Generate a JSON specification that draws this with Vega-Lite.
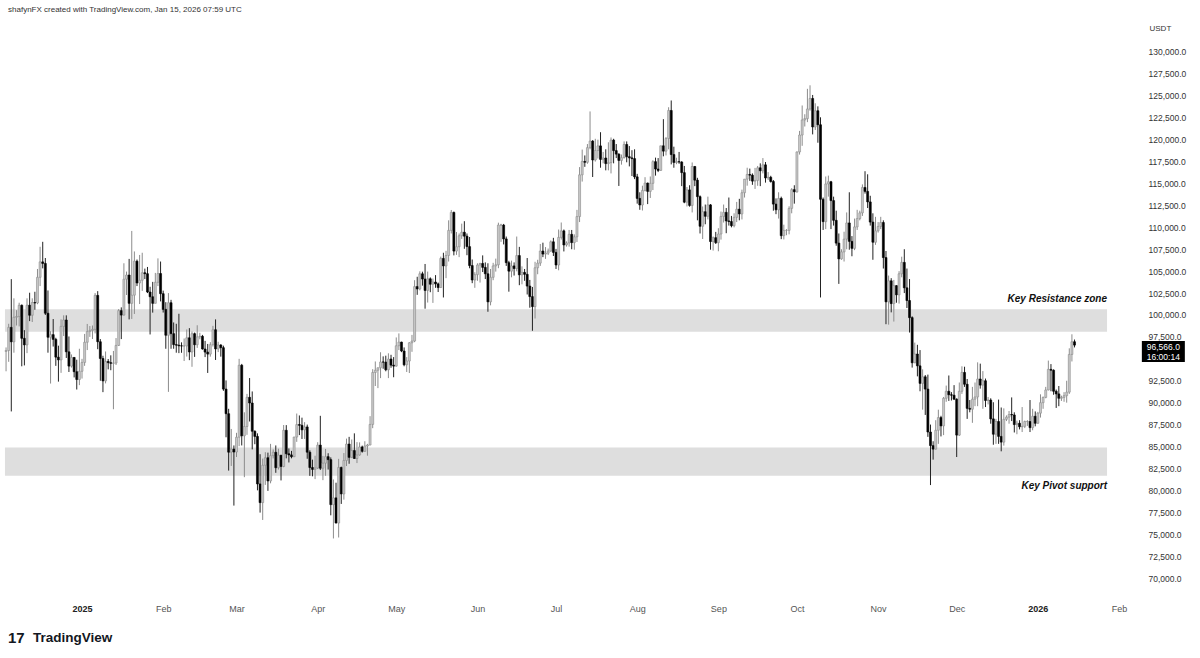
{
"$schema": "https://vega.github.io/schema/vega-lite/v6.json",
"width": 1140, "height": 575,
"autosize": {"type": "none"},
"padding": {"left": 0, "top": 20, "right": 60, "bottom": 63},
"background": "#ffffff",
"config": {"view": {"stroke": null}, "font": "Liberation Sans"},
"resolve": {"axis": {"x": "independent", "y": "independent"}},
"datasets": {
"btc": [
{"d":"2024-12-03","o":95840,"h":96300,"l":93580,"c":95950},
{"d":"2024-12-04","o":95950,"h":99000,"l":94660,"c":98590},
{"d":"2024-12-05","o":98590,"h":104090,"l":89000,"c":96940},
{"d":"2024-12-06","o":96940,"h":101900,"l":95700,"c":99740},
{"d":"2024-12-07","o":99740,"h":100550,"l":98800,"c":99830},
{"d":"2024-12-08","o":99830,"h":101400,"l":98700,"c":101110},
{"d":"2024-12-09","o":101110,"h":101200,"l":94150,"c":97340},
{"d":"2024-12-10","o":97340,"h":98270,"l":94250,"c":96590},
{"d":"2024-12-11","o":96590,"h":101900,"l":95650,"c":101120},
{"d":"2024-12-12","o":101120,"h":102540,"l":99300,"c":99970},
{"d":"2024-12-13","o":99970,"h":101900,"l":99200,"c":101420},
{"d":"2024-12-14","o":101420,"h":102650,"l":100600,"c":101370},
{"d":"2024-12-15","o":101370,"h":105250,"l":101230,"c":104300},
{"d":"2024-12-16","o":104300,"h":107780,"l":103300,"c":106060},
{"d":"2024-12-17","o":106060,"h":108350,"l":105320,"c":105880},
{"d":"2024-12-18","o":105880,"h":106500,"l":100000,"c":100200},
{"d":"2024-12-19","o":100200,"h":102800,"l":95700,"c":97460},
{"d":"2024-12-20","o":97460,"h":98150,"l":92180,"c":97760},
{"d":"2024-12-21","o":97760,"h":99540,"l":96400,"c":97220},
{"d":"2024-12-22","o":97220,"h":97400,"l":94200,"c":95190},
{"d":"2024-12-23","o":95190,"h":96500,"l":92400,"c":94880},
{"d":"2024-12-24","o":94880,"h":99500,"l":93400,"c":98700},
{"d":"2024-12-25","o":98700,"h":99960,"l":97600,"c":99430},
{"d":"2024-12-26","o":99430,"h":99960,"l":95100,"c":95800},
{"d":"2024-12-27","o":95800,"h":97550,"l":93500,"c":94170},
{"d":"2024-12-28","o":94170,"h":95500,"l":94000,"c":95160},
{"d":"2024-12-29","o":95160,"h":95200,"l":92880,"c":93530},
{"d":"2024-12-30","o":93530,"h":94900,"l":91500,"c":92640},
{"d":"2024-12-31","o":92640,"h":96150,"l":92000,"c":93580},
{"d":"2025-01-01","o":93580,"h":95000,"l":92750,"c":94590},
{"d":"2025-01-02","o":94590,"h":97840,"l":94200,"c":96890},
{"d":"2025-01-03","o":96890,"h":98980,"l":96000,"c":98110},
{"d":"2025-01-04","o":98110,"h":98740,"l":97500,"c":98240},
{"d":"2025-01-05","o":98240,"h":98800,"l":97260,"c":98360},
{"d":"2025-01-06","o":98360,"h":102500,"l":97900,"c":102240},
{"d":"2025-01-07","o":102240,"h":102720,"l":96100,"c":96950},
{"d":"2025-01-08","o":96950,"h":97250,"l":92500,"c":95040},
{"d":"2025-01-09","o":95040,"h":95350,"l":91200,"c":92480},
{"d":"2025-01-10","o":92480,"h":95840,"l":92200,"c":94700},
{"d":"2025-01-11","o":94700,"h":94980,"l":93800,"c":94560},
{"d":"2025-01-12","o":94560,"h":95400,"l":93700,"c":94490},
{"d":"2025-01-13","o":94490,"h":95900,"l":89250,"c":94520},
{"d":"2025-01-14","o":94520,"h":97370,"l":94300,"c":96530},
{"d":"2025-01-15","o":96530,"h":100680,"l":96460,"c":100500},
{"d":"2025-01-16","o":100500,"h":100870,"l":97250,"c":99990},
{"d":"2025-01-17","o":99990,"h":105900,"l":99950,"c":104080},
{"d":"2025-01-18","o":104080,"h":104950,"l":102280,"c":104560},
{"d":"2025-01-19","o":104560,"h":106400,"l":99500,"c":101330},
{"d":"2025-01-20","o":101330,"h":109590,"l":99550,"c":102260},
{"d":"2025-01-21","o":102260,"h":107250,"l":100120,"c":106140},
{"d":"2025-01-22","o":106140,"h":106330,"l":103300,"c":103650},
{"d":"2025-01-23","o":103650,"h":106850,"l":101250,"c":103960},
{"d":"2025-01-24","o":103960,"h":107100,"l":102750,"c":104820},
{"d":"2025-01-25","o":104820,"h":105290,"l":104100,"c":104710},
{"d":"2025-01-26","o":104710,"h":105480,"l":102500,"c":102620},
{"d":"2025-01-27","o":102620,"h":103220,"l":97780,"c":102080},
{"d":"2025-01-28","o":102080,"h":103780,"l":100270,"c":101330},
{"d":"2025-01-29","o":101330,"h":104800,"l":101330,"c":103730},
{"d":"2025-01-30","o":103730,"h":106460,"l":103300,"c":104730},
{"d":"2025-01-31","o":104730,"h":106100,"l":101550,"c":102430},
{"d":"2025-02-01","o":102430,"h":102780,"l":100280,"c":100640},
{"d":"2025-02-02","o":100640,"h":101460,"l":96150,"c":97690},
{"d":"2025-02-03","o":97690,"h":102500,"l":91230,"c":101400},
{"d":"2025-02-04","o":101400,"h":101730,"l":96150,"c":97870},
{"d":"2025-02-05","o":97870,"h":99150,"l":96150,"c":96620},
{"d":"2025-02-06","o":96620,"h":99000,"l":95700,"c":96560},
{"d":"2025-02-07","o":96560,"h":100140,"l":95650,"c":96480},
{"d":"2025-02-08","o":96480,"h":96880,"l":95690,"c":96470},
{"d":"2025-02-09","o":96470,"h":97320,"l":94750,"c":96470},
{"d":"2025-02-10","o":96470,"h":98350,"l":95260,"c":97400},
{"d":"2025-02-11","o":97400,"h":98500,"l":94850,"c":95780},
{"d":"2025-02-12","o":95780,"h":98120,"l":94090,"c":97870},
{"d":"2025-02-13","o":97870,"h":98000,"l":95220,"c":96610},
{"d":"2025-02-14","o":96610,"h":98830,"l":96250,"c":97500},
{"d":"2025-02-15","o":97500,"h":97970,"l":97230,"c":97570},
{"d":"2025-02-16","o":97570,"h":97730,"l":96050,"c":96120},
{"d":"2025-02-17","o":96120,"h":97050,"l":95200,"c":95770},
{"d":"2025-02-18","o":95770,"h":96700,"l":93390,"c":95540},
{"d":"2025-02-19","o":95540,"h":96900,"l":95250,"c":96620},
{"d":"2025-02-20","o":96620,"h":98760,"l":96400,"c":98320},
{"d":"2025-02-21","o":98320,"h":99500,"l":94870,"c":96130},
{"d":"2025-02-22","o":96130,"h":96950,"l":95770,"c":96580},
{"d":"2025-02-23","o":96580,"h":96670,"l":95250,"c":96270},
{"d":"2025-02-24","o":96270,"h":96500,"l":91350,"c":91550},
{"d":"2025-02-25","o":91550,"h":92540,"l":86050,"c":88740},
{"d":"2025-02-26","o":88740,"h":89300,"l":82250,"c":84350},
{"d":"2025-02-27","o":84350,"h":87000,"l":82780,"c":84700},
{"d":"2025-02-28","o":84700,"h":85120,"l":78260,"c":84370},
{"d":"2025-03-01","o":84370,"h":86560,"l":83800,"c":86060},
{"d":"2025-03-02","o":86060,"h":95000,"l":85040,"c":94270},
{"d":"2025-03-03","o":94270,"h":94420,"l":85120,"c":86220},
{"d":"2025-03-04","o":86220,"h":88900,"l":81500,"c":87280},
{"d":"2025-03-05","o":87280,"h":91000,"l":86330,"c":90610},
{"d":"2025-03-06","o":90610,"h":92810,"l":87850,"c":89960},
{"d":"2025-03-07","o":89960,"h":91280,"l":84670,"c":86740},
{"d":"2025-03-08","o":86740,"h":86840,"l":85260,"c":86150},
{"d":"2025-03-09","o":86150,"h":86500,"l":80000,"c":80730},
{"d":"2025-03-10","o":80730,"h":84120,"l":77460,"c":78600},
{"d":"2025-03-11","o":78600,"h":83620,"l":76620,"c":82860},
{"d":"2025-03-12","o":82860,"h":84350,"l":80620,"c":83720},
{"d":"2025-03-13","o":83720,"h":84300,"l":79940,"c":81070},
{"d":"2025-03-14","o":81070,"h":85300,"l":80800,"c":83960},
{"d":"2025-03-15","o":83960,"h":84670,"l":83640,"c":84340},
{"d":"2025-03-16","o":84340,"h":85120,"l":82000,"c":82580},
{"d":"2025-03-17","o":82580,"h":84750,"l":82370,"c":84010},
{"d":"2025-03-18","o":84010,"h":84020,"l":81130,"c":82720},
{"d":"2025-03-19","o":82720,"h":87450,"l":82630,"c":86850},
{"d":"2025-03-20","o":86850,"h":87440,"l":83650,"c":84170},
{"d":"2025-03-21","o":84170,"h":84780,"l":83180,"c":84040},
{"d":"2025-03-22","o":84040,"h":84500,"l":83650,"c":83830},
{"d":"2025-03-23","o":83830,"h":86100,"l":83800,"c":86080},
{"d":"2025-03-24","o":86080,"h":88760,"l":85530,"c":87500},
{"d":"2025-03-25","o":87500,"h":88540,"l":86300,"c":87420},
{"d":"2025-03-26","o":87420,"h":88290,"l":85860,"c":86900},
{"d":"2025-03-27","o":86900,"h":87780,"l":85860,"c":87230},
{"d":"2025-03-28","o":87230,"h":87500,"l":83600,"c":84350},
{"d":"2025-03-29","o":84350,"h":84570,"l":81650,"c":82600},
{"d":"2025-03-30","o":82600,"h":83500,"l":81600,"c":82390},
{"d":"2025-03-31","o":82390,"h":83950,"l":81280,"c":82550},
{"d":"2025-04-01","o":82550,"h":85490,"l":82430,"c":85160},
{"d":"2025-04-02","o":85160,"h":88500,"l":82320,"c":82520},
{"d":"2025-04-03","o":82520,"h":83930,"l":81160,"c":83100},
{"d":"2025-04-04","o":83100,"h":84720,"l":81660,"c":83840},
{"d":"2025-04-05","o":83840,"h":84230,"l":82370,"c":83500},
{"d":"2025-04-06","o":83500,"h":83760,"l":77150,"c":78370},
{"d":"2025-04-07","o":78370,"h":81240,"l":74510,"c":79140},
{"d":"2025-04-08","o":79140,"h":80870,"l":76240,"c":76270},
{"d":"2025-04-09","o":76270,"h":83590,"l":74620,"c":82610},
{"d":"2025-04-10","o":82610,"h":82700,"l":78450,"c":79590},
{"d":"2025-04-11","o":79590,"h":84250,"l":78940,"c":83400},
{"d":"2025-04-12","o":83400,"h":85900,"l":82770,"c":85280},
{"d":"2025-04-13","o":85280,"h":86100,"l":83030,"c":83760},
{"d":"2025-04-14","o":83760,"h":85800,"l":83680,"c":84540},
{"d":"2025-04-15","o":84540,"h":86500,"l":83600,"c":83630},
{"d":"2025-04-16","o":83630,"h":85500,"l":83110,"c":84030},
{"d":"2025-04-17","o":84030,"h":85470,"l":83950,"c":84950},
{"d":"2025-04-18","o":84950,"h":85100,"l":84300,"c":84450},
{"d":"2025-04-19","o":84450,"h":85600,"l":84400,"c":85060},
{"d":"2025-04-20","o":85060,"h":85300,"l":83950,"c":85170},
{"d":"2025-04-21","o":85170,"h":88460,"l":85140,"c":87520},
{"d":"2025-04-22","o":87520,"h":93820,"l":87090,"c":93440},
{"d":"2025-04-23","o":93440,"h":94700,"l":91900,"c":93700},
{"d":"2025-04-24","o":93700,"h":94000,"l":91660,"c":93980},
{"d":"2025-04-25","o":93980,"h":95750,"l":92800,"c":94640},
{"d":"2025-04-26","o":94640,"h":95280,"l":93870,"c":94630},
{"d":"2025-04-27","o":94630,"h":95360,"l":93580,"c":93750},
{"d":"2025-04-28","o":93750,"h":95630,"l":92800,"c":94980},
{"d":"2025-04-29","o":94980,"h":95460,"l":93980,"c":94280},
{"d":"2025-04-30","o":94280,"h":95200,"l":92900,"c":94170},
{"d":"2025-05-01","o":94170,"h":97440,"l":94120,"c":96490},
{"d":"2025-05-02","o":96490,"h":97900,"l":96000,"c":96910},
{"d":"2025-05-03","o":96910,"h":96950,"l":95760,"c":95890},
{"d":"2025-05-04","o":95890,"h":96300,"l":94150,"c":94320},
{"d":"2025-05-05","o":94320,"h":95200,"l":93500,"c":94750},
{"d":"2025-05-06","o":94750,"h":96900,"l":93380,"c":96830},
{"d":"2025-05-07","o":96830,"h":97730,"l":95800,"c":97030},
{"d":"2025-05-08","o":97030,"h":103970,"l":96900,"c":103240},
{"d":"2025-05-09","o":103240,"h":104360,"l":102300,"c":102970},
{"d":"2025-05-10","o":102970,"h":104980,"l":102810,"c":104700},
{"d":"2025-05-11","o":104700,"h":104940,"l":103350,"c":104100},
{"d":"2025-05-12","o":104100,"h":105820,"l":100720,"c":102800},
{"d":"2025-05-13","o":102800,"h":104950,"l":101420,"c":104130},
{"d":"2025-05-14","o":104130,"h":104290,"l":102600,"c":103510},
{"d":"2025-05-15","o":103510,"h":104160,"l":101380,"c":103760},
{"d":"2025-05-16","o":103760,"h":104550,"l":103100,"c":103550},
{"d":"2025-05-17","o":103550,"h":103700,"l":102620,"c":103130},
{"d":"2025-05-18","o":103130,"h":106660,"l":103100,"c":106450},
{"d":"2025-05-19","o":106450,"h":107100,"l":102000,"c":105600},
{"d":"2025-05-20","o":105600,"h":107320,"l":104200,"c":106790},
{"d":"2025-05-21","o":106790,"h":110800,"l":106100,"c":109650},
{"d":"2025-05-22","o":109650,"h":111980,"l":109300,"c":111700},
{"d":"2025-05-23","o":111700,"h":111800,"l":106800,"c":107290},
{"d":"2025-05-24","o":107290,"h":109470,"l":106860,"c":107790},
{"d":"2025-05-25","o":107790,"h":109300,"l":106600,"c":109040},
{"d":"2025-05-26","o":109040,"h":110420,"l":108680,"c":109440},
{"d":"2025-05-27","o":109440,"h":110700,"l":107550,"c":108990},
{"d":"2025-05-28","o":108990,"h":109300,"l":106820,"c":107800},
{"d":"2025-05-29","o":107800,"h":108900,"l":105330,"c":105640},
{"d":"2025-05-30","o":105640,"h":106330,"l":103630,"c":103990},
{"d":"2025-05-31","o":103990,"h":104880,"l":103100,"c":104600},
{"d":"2025-06-01","o":104600,"h":105900,"l":103900,"c":105700},
{"d":"2025-06-02","o":105700,"h":105950,"l":103700,"c":105880},
{"d":"2025-06-03","o":105880,"h":106800,"l":104900,"c":105430},
{"d":"2025-06-04","o":105430,"h":106000,"l":104100,"c":104700},
{"d":"2025-06-05","o":104700,"h":105900,"l":100370,"c":101500},
{"d":"2025-06-06","o":101500,"h":105250,"l":101100,"c":104300},
{"d":"2025-06-07","o":104300,"h":105950,"l":103970,"c":105600},
{"d":"2025-06-08","o":105600,"h":106430,"l":104950,"c":105730},
{"d":"2025-06-09","o":105730,"h":110530,"l":105340,"c":110260},
{"d":"2025-06-10","o":110260,"h":110400,"l":108340,"c":110260},
{"d":"2025-06-11","o":110260,"h":110390,"l":108050,"c":108680},
{"d":"2025-06-12","o":108680,"h":108950,"l":105600,"c":105970},
{"d":"2025-06-13","o":105970,"h":106180,"l":102660,"c":105000},
{"d":"2025-06-14","o":105000,"h":106200,"l":104300,"c":105600},
{"d":"2025-06-15","o":105600,"h":106000,"l":104500,"c":105300},
{"d":"2025-06-16","o":105300,"h":108950,"l":104980,"c":106780},
{"d":"2025-06-17","o":106780,"h":107770,"l":103400,"c":104580},
{"d":"2025-06-18","o":104580,"h":105550,"l":103500,"c":104860},
{"d":"2025-06-19","o":104860,"h":105250,"l":103900,"c":104640},
{"d":"2025-06-20","o":104640,"h":106500,"l":102340,"c":103300},
{"d":"2025-06-21","o":103300,"h":104000,"l":100830,"c":102100},
{"d":"2025-06-22","o":102100,"h":103200,"l":98200,"c":100960},
{"d":"2025-06-23","o":100960,"h":106070,"l":99600,"c":105390},
{"d":"2025-06-24","o":105390,"h":106300,"l":104650,"c":105920},
{"d":"2025-06-25","o":105920,"h":108100,"l":105600,"c":107300},
{"d":"2025-06-26","o":107300,"h":108250,"l":106600,"c":106950},
{"d":"2025-06-27","o":106950,"h":107750,"l":106400,"c":107050},
{"d":"2025-06-28","o":107050,"h":107580,"l":106840,"c":107300},
{"d":"2025-06-29","o":107300,"h":108500,"l":107200,"c":108350},
{"d":"2025-06-30","o":108350,"h":108800,"l":106730,"c":107140},
{"d":"2025-07-01","o":107140,"h":107540,"l":105250,"c":105700},
{"d":"2025-07-02","o":105700,"h":109750,"l":105100,"c":108850},
{"d":"2025-07-03","o":108850,"h":110550,"l":108600,"c":109600},
{"d":"2025-07-04","o":109600,"h":109750,"l":107250,"c":107990},
{"d":"2025-07-05","o":107990,"h":108400,"l":107800,"c":108220},
{"d":"2025-07-06","o":108220,"h":109700,"l":107800,"c":109200},
{"d":"2025-07-07","o":109200,"h":109700,"l":107500,"c":108260},
{"d":"2025-07-08","o":108260,"h":109200,"l":107450,"c":108920},
{"d":"2025-07-09","o":108920,"h":111990,"l":108330,"c":111230},
{"d":"2025-07-10","o":111230,"h":116870,"l":110600,"c":115990},
{"d":"2025-07-11","o":115990,"h":118870,"l":115220,"c":117520},
{"d":"2025-07-12","o":117520,"h":118200,"l":116900,"c":117420},
{"d":"2025-07-13","o":117420,"h":119500,"l":117250,"c":119090},
{"d":"2025-07-14","o":119090,"h":123220,"l":118900,"c":119840},
{"d":"2025-07-15","o":119840,"h":119950,"l":115740,"c":117680},
{"d":"2025-07-16","o":117680,"h":120100,"l":117500,"c":118760},
{"d":"2025-07-17","o":118760,"h":120000,"l":117850,"c":119290},
{"d":"2025-07-18","o":119290,"h":120850,"l":116800,"c":117750},
{"d":"2025-07-19","o":117750,"h":118600,"l":117300,"c":117910},
{"d":"2025-07-20","o":117910,"h":118900,"l":116500,"c":117270},
{"d":"2025-07-21","o":117270,"h":119700,"l":116500,"c":117380},
{"d":"2025-07-22","o":117380,"h":120250,"l":116150,"c":119950},
{"d":"2025-07-23","o":119950,"h":120100,"l":117300,"c":118750},
{"d":"2025-07-24","o":118750,"h":119500,"l":117900,"c":118350},
{"d":"2025-07-25","o":118350,"h":118450,"l":114720,"c":117630},
{"d":"2025-07-26","o":117630,"h":118300,"l":117150,"c":117950},
{"d":"2025-07-27","o":117950,"h":119800,"l":117850,"c":119450},
{"d":"2025-07-28","o":119450,"h":119800,"l":117420,"c":118060},
{"d":"2025-07-29","o":118060,"h":119270,"l":116950,"c":117920},
{"d":"2025-07-30","o":117920,"h":118800,"l":115850,"c":117840},
{"d":"2025-07-31","o":117840,"h":118900,"l":115500,"c":115760},
{"d":"2025-08-01","o":115760,"h":116100,"l":112700,"c":113300},
{"d":"2025-08-02","o":113300,"h":114000,"l":112000,"c":112550},
{"d":"2025-08-03","o":112550,"h":114750,"l":111920,"c":114210},
{"d":"2025-08-04","o":114210,"h":115720,"l":114100,"c":115050},
{"d":"2025-08-05","o":115050,"h":115100,"l":112650,"c":114100},
{"d":"2025-08-06","o":114100,"h":115800,"l":113350,"c":115020},
{"d":"2025-08-07","o":115020,"h":117650,"l":114250,"c":117490},
{"d":"2025-08-08","o":117490,"h":117950,"l":115900,"c":116650},
{"d":"2025-08-09","o":116650,"h":117900,"l":116300,"c":116490},
{"d":"2025-08-10","o":116490,"h":119300,"l":116450,"c":119300},
{"d":"2025-08-11","o":119300,"h":122340,"l":118100,"c":118690},
{"d":"2025-08-12","o":118690,"h":120300,"l":118200,"c":120130},
{"d":"2025-08-13","o":120130,"h":123700,"l":118900,"c":123330},
{"d":"2025-08-14","o":123330,"h":124470,"l":117180,"c":118300},
{"d":"2025-08-15","o":118300,"h":119200,"l":116800,"c":117400},
{"d":"2025-08-16","o":117400,"h":117940,"l":117200,"c":117490},
{"d":"2025-08-17","o":117490,"h":118600,"l":117250,"c":117450},
{"d":"2025-08-18","o":117450,"h":117550,"l":114700,"c":116240},
{"d":"2025-08-19","o":116240,"h":117000,"l":112750,"c":112870},
{"d":"2025-08-20","o":112870,"h":114600,"l":112380,"c":114270},
{"d":"2025-08-21","o":114270,"h":114800,"l":112350,"c":112500},
{"d":"2025-08-22","o":112500,"h":117400,"l":111700,"c":116940},
{"d":"2025-08-23","o":116940,"h":117000,"l":114700,"c":115380},
{"d":"2025-08-24","o":115380,"h":115650,"l":110800,"c":113500},
{"d":"2025-08-25","o":113500,"h":113640,"l":109300,"c":110120},
{"d":"2025-08-26","o":110120,"h":112380,"l":108670,"c":111780},
{"d":"2025-08-27","o":111780,"h":112600,"l":110350,"c":111260},
{"d":"2025-08-28","o":111260,"h":113500,"l":110900,"c":112560},
{"d":"2025-08-29","o":112560,"h":112650,"l":107450,"c":108380},
{"d":"2025-08-30","o":108380,"h":108950,"l":107350,"c":108820},
{"d":"2025-08-31","o":108820,"h":109480,"l":108100,"c":108250},
{"d":"2025-09-01","o":108250,"h":109900,"l":107270,"c":109240},
{"d":"2025-09-02","o":109240,"h":111800,"l":108600,"c":111240},
{"d":"2025-09-03","o":111240,"h":112600,"l":110550,"c":111710},
{"d":"2025-09-04","o":111710,"h":112200,"l":109330,"c":110730},
{"d":"2025-09-05","o":110730,"h":113400,"l":110200,"c":110660},
{"d":"2025-09-06","o":110660,"h":111300,"l":110000,"c":110190},
{"d":"2025-09-07","o":110190,"h":111600,"l":110000,"c":111140},
{"d":"2025-09-08","o":111140,"h":112900,"l":110600,"c":112070},
{"d":"2025-09-09","o":112070,"h":113250,"l":110800,"c":111530},
{"d":"2025-09-10","o":111530,"h":114300,"l":110900,"c":113950},
{"d":"2025-09-11","o":113950,"h":115500,"l":113400,"c":115500},
{"d":"2025-09-12","o":115500,"h":116800,"l":114750,"c":116030},
{"d":"2025-09-13","o":116030,"h":116700,"l":115300,"c":115950},
{"d":"2025-09-14","o":115950,"h":116150,"l":114850,"c":115270},
{"d":"2025-09-15","o":115270,"h":116780,"l":114380,"c":115350},
{"d":"2025-09-16","o":115350,"h":117000,"l":114740,"c":116790},
{"d":"2025-09-17","o":116790,"h":117300,"l":114700,"c":116450},
{"d":"2025-09-18","o":116450,"h":117900,"l":116150,"c":117130},
{"d":"2025-09-19","o":117130,"h":117450,"l":115100,"c":115630},
{"d":"2025-09-20","o":115630,"h":116300,"l":115400,"c":115710},
{"d":"2025-09-21","o":115710,"h":115880,"l":115100,"c":115230},
{"d":"2025-09-22","o":115230,"h":115400,"l":111900,"c":112650},
{"d":"2025-09-23","o":112650,"h":113300,"l":111500,"c":112000},
{"d":"2025-09-24","o":112000,"h":114000,"l":111000,"c":113300},
{"d":"2025-09-25","o":113300,"h":113500,"l":108650,"c":109050},
{"d":"2025-09-26","o":109050,"h":110300,"l":108620,"c":109650},
{"d":"2025-09-27","o":109650,"h":109800,"l":109100,"c":109650},
{"d":"2025-09-28","o":109650,"h":112400,"l":109200,"c":112160},
{"d":"2025-09-29","o":112160,"h":114470,"l":111600,"c":114300},
{"d":"2025-09-30","o":114300,"h":114800,"l":112700,"c":114050},
{"d":"2025-10-01","o":114050,"h":118650,"l":113950,"c":118600},
{"d":"2025-10-02","o":118600,"h":121000,"l":118300,"c":120530},
{"d":"2025-10-03","o":120530,"h":123900,"l":119300,"c":122250},
{"d":"2025-10-04","o":122250,"h":122900,"l":121500,"c":122400},
{"d":"2025-10-05","o":122400,"h":125800,"l":122000,"c":123500},
{"d":"2025-10-06","o":123500,"h":126200,"l":123300,"c":124700},
{"d":"2025-10-07","o":124700,"h":125100,"l":120600,"c":121450},
{"d":"2025-10-08","o":121450,"h":124150,"l":121100,"c":123300},
{"d":"2025-10-09","o":123300,"h":123800,"l":119650,"c":121700},
{"d":"2025-10-10","o":121700,"h":122550,"l":102000,"c":113200},
{"d":"2025-10-11","o":113200,"h":113400,"l":109700,"c":110650},
{"d":"2025-10-12","o":110650,"h":115800,"l":109800,"c":114950},
{"d":"2025-10-13","o":114950,"h":115900,"l":113500,"c":115200},
{"d":"2025-10-14","o":115200,"h":115300,"l":109800,"c":113050},
{"d":"2025-10-15","o":113050,"h":113500,"l":110200,"c":110800},
{"d":"2025-10-16","o":110800,"h":111900,"l":107900,"c":108200},
{"d":"2025-10-17","o":108200,"h":109300,"l":103550,"c":106400},
{"d":"2025-10-18","o":106400,"h":107500,"l":106300,"c":107200},
{"d":"2025-10-19","o":107200,"h":109500,"l":106100,"c":108650},
{"d":"2025-10-20","o":108650,"h":111700,"l":107500,"c":110500},
{"d":"2025-10-21","o":110500,"h":114000,"l":107450,"c":108400},
{"d":"2025-10-22","o":108400,"h":109000,"l":106700,"c":107600},
{"d":"2025-10-23","o":107600,"h":111000,"l":107400,"c":110050},
{"d":"2025-10-24","o":110050,"h":112000,"l":109700,"c":111000},
{"d":"2025-10-25","o":111000,"h":111900,"l":110800,"c":111650},
{"d":"2025-10-26","o":111650,"h":114900,"l":111300,"c":114550},
{"d":"2025-10-27","o":114550,"h":116400,"l":113850,"c":114100},
{"d":"2025-10-28","o":114100,"h":116050,"l":112200,"c":112900},
{"d":"2025-10-29","o":112900,"h":113600,"l":110200,"c":110600},
{"d":"2025-10-30","o":110600,"h":111600,"l":106300,"c":108300},
{"d":"2025-10-31","o":108300,"h":111200,"l":108000,"c":109600},
{"d":"2025-11-01","o":109600,"h":110600,"l":109400,"c":110100},
{"d":"2025-11-02","o":110100,"h":111200,"l":109800,"c":110550},
{"d":"2025-11-03","o":110550,"h":110800,"l":105300,"c":106550},
{"d":"2025-11-04","o":106550,"h":107300,"l":98950,"c":101500},
{"d":"2025-11-05","o":101500,"h":104500,"l":98900,"c":103900},
{"d":"2025-11-06","o":103900,"h":104200,"l":100300,"c":101300},
{"d":"2025-11-07","o":101300,"h":104000,"l":99250,"c":103350},
{"d":"2025-11-08","o":103350,"h":103400,"l":101400,"c":102300},
{"d":"2025-11-09","o":102300,"h":105000,"l":101300,"c":104700},
{"d":"2025-11-10","o":104700,"h":106650,"l":104300,"c":106000},
{"d":"2025-11-11","o":106000,"h":107500,"l":102500,"c":103100},
{"d":"2025-11-12","o":103100,"h":105300,"l":100800,"c":101650},
{"d":"2025-11-13","o":101650,"h":104100,"l":98000,"c":99700},
{"d":"2025-11-14","o":99700,"h":99850,"l":94000,"c":94550},
{"d":"2025-11-15","o":94550,"h":96850,"l":94500,"c":95550},
{"d":"2025-11-16","o":95550,"h":96600,"l":93000,"c":94200},
{"d":"2025-11-17","o":94200,"h":96000,"l":91300,"c":92200},
{"d":"2025-11-18","o":92200,"h":93800,"l":89200,"c":92950},
{"d":"2025-11-19","o":92950,"h":93150,"l":88600,"c":91550},
{"d":"2025-11-20","o":91550,"h":93200,"l":86100,"c":86650},
{"d":"2025-11-21","o":86650,"h":87500,"l":80600,"c":85100},
{"d":"2025-11-22","o":85100,"h":85600,"l":83500,"c":84700},
{"d":"2025-11-23","o":84700,"h":88000,"l":84650,"c":86850},
{"d":"2025-11-24","o":86850,"h":89200,"l":85300,"c":88300},
{"d":"2025-11-25","o":88300,"h":88500,"l":86150,"c":87350},
{"d":"2025-11-26","o":87350,"h":90650,"l":86300,"c":90500},
{"d":"2025-11-27","o":90500,"h":91950,"l":90100,"c":91300},
{"d":"2025-11-28","o":91300,"h":93100,"l":90200,"c":90900},
{"d":"2025-11-29","o":90900,"h":91200,"l":90250,"c":90850},
{"d":"2025-11-30","o":90850,"h":92000,"l":90300,"c":90400},
{"d":"2025-12-01","o":90400,"h":90500,"l":83800,"c":86300},
{"d":"2025-12-02","o":86300,"h":92300,"l":86200,"c":91300},
{"d":"2025-12-03","o":91300,"h":94150,"l":91000,"c":93450},
{"d":"2025-12-04","o":93450,"h":94100,"l":91800,"c":92100},
{"d":"2025-12-05","o":92100,"h":92700,"l":88150,"c":89350},
{"d":"2025-12-06","o":89350,"h":90300,"l":88900,"c":89250},
{"d":"2025-12-07","o":89250,"h":91800,"l":87700,"c":90400},
{"d":"2025-12-08","o":90400,"h":92300,"l":89600,"c":90650},
{"d":"2025-12-09","o":90650,"h":94600,"l":89600,"c":92700},
{"d":"2025-12-10","o":92700,"h":94450,"l":91600,"c":92000},
{"d":"2025-12-11","o":92000,"h":93600,"l":89300,"c":92500},
{"d":"2025-12-12","o":92500,"h":92750,"l":89500,"c":90250},
{"d":"2025-12-13","o":90250,"h":90650,"l":89800,"c":90300},
{"d":"2025-12-14","o":90300,"h":90500,"l":87600,"c":88150},
{"d":"2025-12-15","o":88150,"h":90050,"l":85200,"c":86400},
{"d":"2025-12-16","o":86400,"h":88150,"l":85300,"c":87850},
{"d":"2025-12-17","o":87850,"h":90350,"l":85300,"c":86150},
{"d":"2025-12-18","o":86150,"h":89450,"l":84450,"c":85500},
{"d":"2025-12-19","o":85500,"h":89350,"l":85100,"c":88100},
{"d":"2025-12-20","o":88100,"h":88550,"l":87900,"c":88350},
{"d":"2025-12-21","o":88350,"h":89050,"l":87600,"c":88650},
{"d":"2025-12-22","o":88650,"h":90600,"l":87900,"c":88600},
{"d":"2025-12-23","o":88600,"h":88900,"l":86600,"c":87500},
{"d":"2025-12-24","o":87500,"h":87950,"l":86400,"c":87650},
{"d":"2025-12-25","o":87650,"h":88000,"l":86950,"c":87250},
{"d":"2025-12-26","o":87250,"h":89500,"l":86650,"c":87300},
{"d":"2025-12-27","o":87300,"h":87950,"l":87100,"c":87850},
{"d":"2025-12-28","o":87850,"h":88000,"l":87350,"c":87850},
{"d":"2025-12-29","o":87850,"h":90300,"l":86650,"c":87150},
{"d":"2025-12-30","o":87150,"h":89300,"l":86850,"c":88450},
{"d":"2025-12-31","o":88450,"h":89000,"l":87300,"c":87650},
{"d":"2026-01-01","o":87650,"h":88950,"l":87600,"c":88800},
{"d":"2026-01-02","o":88800,"h":90950,"l":88300,"c":90000},
{"d":"2026-01-03","o":90000,"h":90700,"l":89300,"c":90600},
{"d":"2026-01-04","o":90600,"h":91800,"l":90500,"c":91450},
{"d":"2026-01-05","o":91450,"h":94800,"l":91400,"c":93800},
{"d":"2026-01-06","o":93800,"h":94400,"l":91300,"c":93700},
{"d":"2026-01-07","o":93700,"h":93800,"l":90900,"c":91300},
{"d":"2026-01-08","o":91300,"h":91500,"l":89400,"c":91000},
{"d":"2026-01-09","o":91000,"h":91900,"l":89600,"c":90500},
{"d":"2026-01-10","o":90500,"h":90800,"l":90200,"c":90600},
{"d":"2026-01-11","o":90600,"h":91200,"l":90100,"c":90800},
{"d":"2026-01-12","o":90800,"h":92500,"l":90000,"c":91200},
{"d":"2026-01-13","o":91200,"h":96200,"l":91000,"c":95500},
{"d":"2026-01-14","o":95500,"h":97800,"l":94700,"c":96950},
{"d":"2026-01-15","o":96950,"h":97200,"l":96300,"c":96566}
]
},
"layer": [
{
"data": {"values": [
{"t1":"2024-12-02T14:00:00Z","t2":"2026-01-27T10:00:00Z","p1":98100,"p2":100650},
{"t1":"2024-12-02T14:00:00Z","t2":"2026-01-27T10:00:00Z","p1":81650,"p2":84900}
]},
"mark": {"type": "rect", "color": "#dedede"},
"encoding": {
"x": {"field": "t1", "type": "temporal",
"scale": {"type": "utc", "padding": 0, "domain": [{"year":2024,"month":11,"date":30,"hours":16,"minutes":30,"utc":true},{"year":2026,"month":2,"date":9,"utc":true}]},
"axis": {
"values": [{"year":2025,"month":1,"date":1,"utc":true},{"year":2025,"month":2,"date":1,"utc":true},{"year":2025,"month":3,"date":1,"utc":true},{"year":2025,"month":4,"date":1,"utc":true},{"year":2025,"month":5,"date":1,"utc":true},{"year":2025,"month":6,"date":1,"utc":true},{"year":2025,"month":7,"date":1,"utc":true},{"year":2025,"month":8,"date":1,"utc":true},{"year":2025,"month":9,"date":1,"utc":true},{"year":2025,"month":10,"date":1,"utc":true},{"year":2025,"month":11,"date":1,"utc":true},{"year":2025,"month":12,"date":1,"utc":true},{"year":2026,"month":1,"date":1,"utc":true},{"year":2026,"month":2,"date":1,"utc":true}],
"labelExpr": "utcmonth(datum.value) == 0 ? utcFormat(datum.value, '%Y') : utcFormat(datum.value, '%b')",
"labelFontWeight": {"condition": {"test": "utcmonth(datum.value) == 0", "value": "bold"}, "value": "normal"},
"labelColor": {"condition": {"test": "utcmonth(datum.value) == 0", "value": "#222222"}, "value": "#555555"},
"domain": false, "ticks": false, "tickSize": 0, "grid": false,
"labelFontSize": 9, "labelPadding": 9, "labelOverlap": false, "labelFlush": false, "title": null
}},
"x2": {"field": "t2"},
"y": {"field": "p1", "type": "quantitative",
"scale": {"domain": [68061, 133650], "nice": false, "zero": false, "padding": 0},
"axis": {
"orient": "right",
"values": [70000,72500,75000,77500,80000,82500,85000,87500,90000,92500,97500,100000,102500,105000,107500,110000,112500,115000,117500,120000,122500,125000,127500,130000],
"format": ",.1f", "domain": false, "ticks": false, "tickSize": 0, "grid": false,
"labelFontSize": 8.5, "labelColor": "#333333", "labelPadding": 8, "labelAlign": "left",
"labelOverlap": false, "labelFlush": false,
"title": "USDT", "titleAngle": 0, "titleX": 9, "titleY": 8, "titleAlign": "left", "titleBaseline": "middle",
"titleFontWeight": "normal", "titleFontSize": 8, "titleColor": "#333333"
}},
"y2": {"field": "p2"}
}
},
{
"data": {"name": "btc"},
"mark": {"type": "rule", "strokeWidth": 1},
"encoding": {
"x": {"field": "d", "type": "temporal", "axis": null},
"y": {"field": "l", "type": "quantitative", "axis": null},
"y2": {"field": "h"},
"color": {"condition": {"test": "datum.c >= datum.o", "value": "#8c8c8c"}, "value": "#222222"}
}
},
{
"data": {"name": "btc"},
"mark": {"type": "bar", "size": 2, "strokeWidth": 0.6},
"encoding": {
"x": {"field": "d", "type": "temporal", "axis": null},
"y": {"field": "o", "type": "quantitative", "axis": null},
"y2": {"field": "c"},
"fill": {"condition": {"test": "datum.c >= datum.o", "value": "#c8c8c8"}, "value": "#000000"},
"stroke": {"condition": {"test": "datum.c >= datum.o", "value": "#8c8c8c"}, "value": "#000000"}
}
},
{
"mark": {"type": "rule", "strokeDash": [1, 2], "color": "#333333", "strokeWidth": 1},
"encoding": {"y": {"datum": 96566, "type": "quantitative", "axis": null}}
},
{
"data": {"values": [
{"t":"2026-01-27T10:00:00Z","p":101830,"label":"Key Resistance zone"},
{"t":"2026-01-27T10:00:00Z","p":80500,"label":"Key Pivot support"}
]},
"mark": {"type": "text", "align": "right", "baseline": "middle", "fontSize": 10, "fontWeight": "bold", "fontStyle": "italic", "color": "#111111"},
"encoding": {
"x": {"field": "t", "type": "temporal", "axis": null},
"y": {"field": "p", "type": "quantitative", "axis": null},
"text": {"field": "label"}
}
},
{
"data": {"values": [{"t1":"2026-02-09T17:00:00Z","t2":"2026-02-26T03:00:00Z","p1":94640,"p2":97040}]},
"mark": {"type": "rect", "color": "#000000", "clip": false},
"encoding": {
"x": {"field": "t1", "type": "temporal", "axis": null},
"x2": {"field": "t2"},
"y": {"field": "p1", "type": "quantitative", "axis": null},
"y2": {"field": "p2"}
}
},
{
"data": {"values": [
{"t":"2026-02-17T22:00:00Z","p":96380,"label":"96,566.0"},
{"t":"2026-02-17T22:00:00Z","p":95260,"label":"16:00:14"}
]},
"mark": {"type": "text", "align": "center", "baseline": "middle", "fontSize": 8.5, "color": "#ffffff", "clip": false},
"encoding": {
"x": {"field": "t", "type": "temporal", "axis": null},
"y": {"field": "p", "type": "quantitative", "axis": null},
"text": {"field": "label"}
}
},
{
"data": {"values": [
{"t":"2024-12-03T18:00:00Z","p":134790,"label":"shafynFX created with TradingView.com, Jan 15, 2026 07:59 UTC"}
]},
"mark": {"type": "text", "align": "left", "baseline": "middle", "fontSize": 8, "color": "#333333", "clip": false},
"encoding": {
"x": {"field": "t", "type": "temporal", "axis": null},
"y": {"field": "p", "type": "quantitative", "axis": null},
"text": {"field": "label"}
}
},
{
"data": {"values": [
{"t":"2024-12-13T07:00:00Z","p":63160,"label":"TradingView","k":"name"},
{"t":"2024-12-03T18:00:00Z","p":63160,"label":"17","k":"logo"}
]},
"mark": {"type": "text", "align": "left", "baseline": "middle", "fontWeight": "bold", "color": "#131722", "clip": false},
"encoding": {
"x": {"field": "t", "type": "temporal", "axis": null},
"y": {"field": "p", "type": "quantitative", "axis": null},
"text": {"field": "label"},
"size": {"field": "k", "type": "nominal", "scale": {"domain": ["name", "logo"], "range": [13.5, 15]}, "legend": null}
}
}
]
}
